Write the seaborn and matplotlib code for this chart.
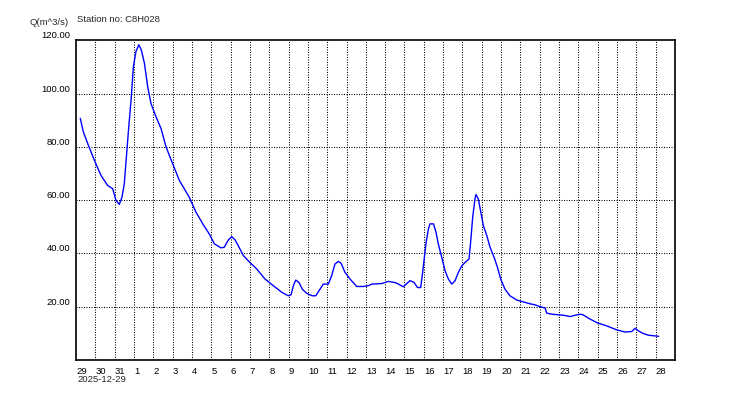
import numpy as np
import pandas as pd
import matplotlib
matplotlib.use("Agg")
import matplotlib.pyplot as plt
import matplotlib.transforms as mtransforms
import seaborn as sns

start = "2025-12-29"
station = "C8H028"

# time offsets (days from 2025-12-29 00:00) and discharge values (m^3/s)
day_offset = [
    0.22, 0.38, 0.64, 0.95, 1.29, 1.64, 1.90, 2.07, 2.24, 2.38, 2.50, 2.62, 2.73, 2.85, 2.97,
    3.10, 3.25, 3.38, 3.54, 3.71, 3.88, 4.14, 4.40, 4.66, 5.00, 5.35, 5.86, 6.21, 6.56, 6.90,
    7.16, 7.50, 7.67, 7.88, 8.06, 8.23, 8.44, 8.66, 9.00, 9.35, 9.78, 10.21, 10.65, 10.99, 11.13,
    11.25, 11.37, 11.54, 11.71, 11.94, 12.23, 12.41, 12.63, 12.80, 13.06, 13.23, 13.40, 13.58,
    13.72, 13.92, 14.18, 14.53, 14.87, 15.13, 15.31, 15.82, 16.17, 16.55, 16.94, 17.29, 17.50,
    17.67, 17.84, 17.93, 18.01, 18.12, 18.24, 18.32, 18.50, 18.63, 18.75, 18.93, 19.10, 19.27,
    19.45, 19.62, 19.79, 19.97, 20.19, 20.34, 20.43, 20.53, 20.65, 20.70, 20.82, 20.95, 21.08,
    21.26, 21.43, 21.64, 21.81, 21.98, 22.20, 22.46, 22.81, 23.15, 23.50, 23.76, 24.02, 24.28,
    24.36, 24.62, 25.23, 25.57, 25.83, 26.09, 26.26, 26.52, 26.96, 27.47, 27.99, 28.42, 28.76,
    28.94, 29.11, 29.37, 29.63, 30.15,
]
discharge = [
    90.7, 85.6, 80.6, 75.0, 69.3, 65.5, 64.3, 59.9, 58.4, 61.1, 66.2, 77.5, 87.5, 97.6, 110.1,
    115.7, 118.3, 116.4, 111.4, 102.6, 96.3, 91.3, 86.9, 80.0, 73.7, 67.4, 61.1, 55.5, 51.1, 47.3,
    43.6, 42.1, 42.3, 45.0, 46.3, 45.1, 42.3, 39.2, 36.6, 34.2, 30.4, 27.9, 25.4, 24.1, 24.5,
    27.9, 30.0, 29.1, 26.6, 25.0, 24.1, 24.1, 26.6, 28.5, 28.5, 31.6, 36.0, 37.0,
    36.3, 32.9, 30.4, 27.6, 27.6, 27.9, 28.5, 28.7, 29.5, 29.0, 27.5, 29.8, 29.1,
    27.2, 27.2, 32.3, 37.3, 44.2, 49.2, 51.1, 51.1, 48.0, 43.6, 38.5, 33.5, 30.4,
    28.5, 29.8, 32.9, 35.4, 37.0, 37.9, 44.8, 53.6, 60.5, 62.1, 60.5, 55.5, 50.5,
    46.7, 42.3, 38.5, 34.8, 30.4, 26.6, 24.1, 22.5, 21.8, 21.1, 20.7, 20.0, 19.5,
    17.6, 17.2, 16.8, 16.3, 16.8, 17.2, 16.9, 15.7, 14.0, 12.8, 11.3, 10.5, 10.7,
    11.9, 10.9, 9.9, 9.3, 8.9,
]
y_ticks = [20, 40, 60, 80, 100, 120]
y_ticklabels = ["20.00", "40.00", "60.00", "80.00", "100.00", "120.00"]

t0 = pd.Timestamp(start)
df = pd.DataFrame({
    "time": t0 + pd.to_timedelta(day_offset, unit="D"),
    "Q": discharge,
})

sns.set_style("white")
plt.rcParams["font.family"] = ["Liberation Sans", "DejaVu Sans"]
plt.rcParams["font.size"] = 6.8

fig = plt.figure(figsize=(7.5, 4.0), dpi=100)
ax = fig.add_axes([76 / 750, 1 - 360 / 400, (675 - 76) / 750, (360 - 40.3) / 400])

sns.lineplot(data=df, x="time", y="Q", ax=ax, color="#0000FF", linewidth=1.0)

days = pd.date_range(t0, periods=32, freq="D")
ax.set_xlim(days[0], days[-1])
ax.set_ylim(0, 120)

ax.set_xticks(days[:-1])
ax.set_xticklabels([str(d.day) for d in days[:-1]], ha="left")
offset = mtransforms.ScaledTranslation(1.5 / 100, 0, fig.dpi_scale_trans)
for lab in ax.get_xticklabels():
    lab.set_transform(lab.get_transform() + offset)

ax.set_yticks(y_ticks)
ax.set_yticklabels(y_ticklabels, va="bottom")
yoff = mtransforms.ScaledTranslation(0, 2 / 100, fig.dpi_scale_trans)
for lab in ax.get_yticklabels():
    lab.set_transform(lab.get_transform() + yoff)

ax.tick_params(axis="x", direction="out", length=3.5, width=1.0, pad=1.5, colors="black", labelsize=6.8)
ax.tick_params(axis="y", direction="out", length=3.0, width=1.0, pad=1.0, colors="black", labelsize=6.8)
for lab in ax.get_xticklabels() + ax.get_yticklabels():
    lab.set_color("black")

for d in days[1:-1]:
    ax.axvline(d, color="black", linewidth=0.75, linestyle=(0, (1, 1.4)), zorder=0)
for yv in y_ticks[:-1]:
    ax.axhline(yv, color="black", linewidth=0.75, linestyle=(0, (1, 1.4)), zorder=0)

for sp in ax.spines.values():
    sp.set_visible(True)
    sp.set_color("black")
    sp.set_linewidth(1.2)

ax.set_xlabel("")
ax.set_ylabel("")

fig.text(69 / 750, 1 - 22.5 / 400, "Q(m^3/s)", ha="right", va="center", fontsize=6.8)
fig.text(77 / 750, 1 - 20 / 400, f"Station no: {station}", ha="left", va="center", fontsize=6.8)
fig.text(77 / 750, 1 - 380 / 400, start, ha="left", va="center", fontsize=6.8)

fig.savefig("out.png", dpi=100, facecolor="white")
